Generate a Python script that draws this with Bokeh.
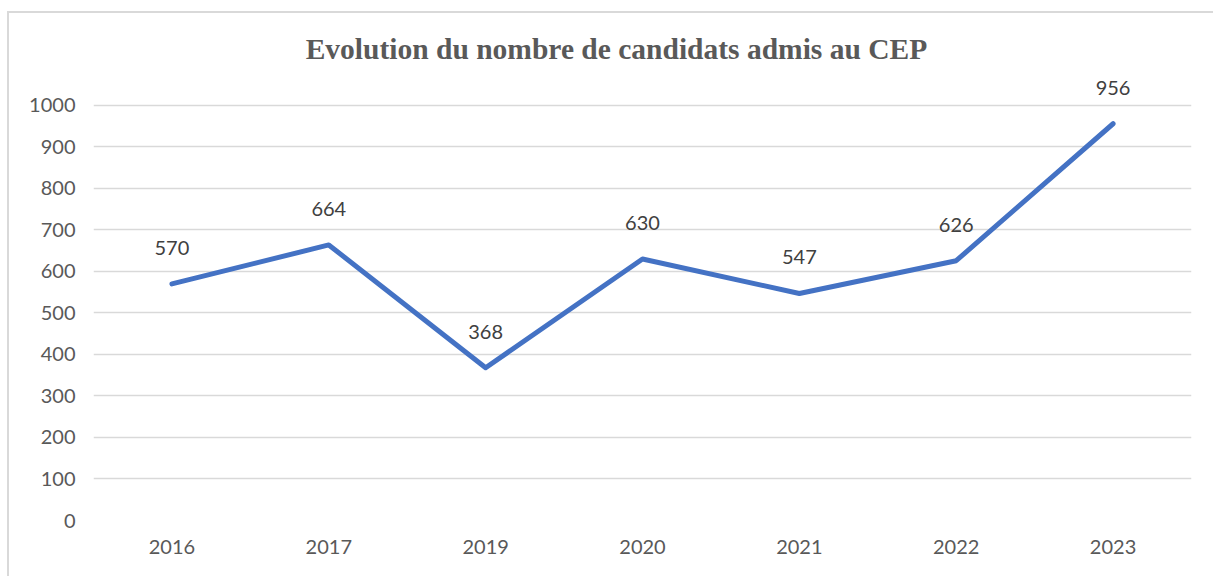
from bokeh.plotting import figure
from bokeh.models import ColumnDataSource, LabelSet, Label, Range1d, FixedTicker
from bokeh.core.properties import value
from bokeh.embed import file_html
from bokeh.resources import INLINE

years = ["2016", "2017", "2019", "2020", "2021", "2022", "2023"]
admis = [570, 664, 368, 630, 547, 626, 956]
y_ticks = [0, 100, 200, 300, 400, 500, 600, 700, 800, 900, 1000]
title_text = "Evolution du nombre de candidats admis au CEP"

src = ColumnDataSource(dict(x=years, y=admis, lab=[str(v) for v in admis]))

p = figure(x_range=years, y_range=Range1d(0, 1180.7), width=1206, height=565,
           output_backend="svg", toolbar_location=None,
           min_border_left=84, min_border_right=24, min_border_top=17, min_border_bottom=58)
p.margin = (11, 0, 0, 7)
p.styles = {"border-top": "2px solid #d9d9d9", "border-left": "2px solid #d9d9d9"}
p.outline_line_color = None
p.background_fill_color = "white"

p.line("x", "y", source=src, line_color="#4472C4", line_width=5, line_join="round", line_cap="round")

labels = LabelSet(x="x", y="y", text="lab", source=src, text_align="center", text_baseline="middle",
                  y_offset=36, text_font=value("Lato"), text_font_size="20px", text_color="#404040")
p.add_layout(labels)

p.add_layout(Label(x=3.334, y=1137, text=title_text,
                   text_align="center", text_baseline="alphabetic", text_font="Liberation Serif",
                   text_font_style="bold", text_font_size="29.5px", text_color="#595959"))

p.yaxis.ticker = FixedTicker(ticks=y_ticks)
p.ygrid.ticker = FixedTicker(ticks=y_ticks)
p.xgrid.grid_line_color = None
p.ygrid.grid_line_color = "#d9d9d9"
p.ygrid.grid_line_width = 1.5

for ax in (p.xaxis, p.yaxis):
    ax.axis_line_color = None
    ax.major_tick_line_color = None
    ax.minor_tick_line_color = None
    ax.major_tick_out = 0
    ax.major_tick_in = 0
    ax.major_label_text_font = "Lato"
    ax.major_label_text_font_size = "20px"
    ax.major_label_text_color = "#595959"
p.yaxis.major_label_standoff = 18
p.xaxis.major_label_standoff = 19

open("out.html", "w").write(file_html(p, INLINE))
